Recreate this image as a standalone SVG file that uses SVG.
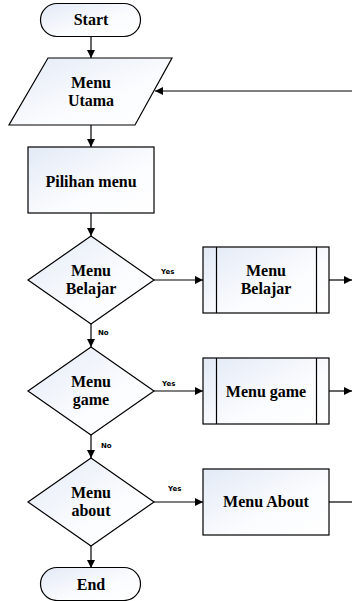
<svg xmlns="http://www.w3.org/2000/svg" width="352" height="601" viewBox="0 0 352 601">
<defs>
<linearGradient id="g" x1="0" y1="0" x2="1" y2="1">
<stop offset="0" stop-color="#e3eaf6"/>
<stop offset="0.6" stop-color="#fbfcfe"/>
<stop offset="1" stop-color="#ffffff"/>
</linearGradient>
<marker id="ah" viewBox="0 0 10 10" refX="10" refY="5" markerWidth="8" markerHeight="8" markerUnits="userSpaceOnUse" orient="auto">
<path d="M0,0 L10,5 L0,10 z" fill="#000"/>
</marker>
<style>
.s{fill:url(#g);stroke:#000;stroke-width:1.2}
.t{font-family:"Liberation Serif",serif;font-weight:bold;font-size:16px;text-anchor:middle;fill:#000}
.l{font-family:"DejaVu Sans",sans-serif;font-weight:bold;font-size:7px;fill:#000}
.c{fill:none;stroke:#000;stroke-width:1.2}
.a{marker-end:url(#ah)}
</style>
</defs>
<rect width="352" height="601" fill="#fff"/>
<g id="connectors">
<line class="c a" x1="91" y1="37" x2="91" y2="58"/>
<line class="c a" x1="352" y1="91" x2="155" y2="91"/>
<line class="c a" x1="91" y1="125" x2="91" y2="147"/>
<line class="c a" x1="91" y1="213" x2="91" y2="236"/>
<line class="c a" x1="154" y1="280" x2="203" y2="280"/>
<line class="c a" x1="329" y1="280" x2="352" y2="280"/>
<line class="c a" x1="91" y1="324" x2="91" y2="347"/>
<line class="c a" x1="154" y1="391" x2="203" y2="391"/>
<line class="c a" x1="329" y1="391" x2="352" y2="391"/>
<line class="c a" x1="91" y1="435" x2="91" y2="458"/>
<line class="c a" x1="154" y1="502" x2="203" y2="502"/>
<line class="c" x1="329" y1="502" x2="352" y2="502"/>
<line class="c a" x1="91" y1="546" x2="91" y2="568"/>
<text class="l" x="161" y="274">Yes</text>
<text class="l" x="162" y="386">Yes</text>
<text class="l" x="168" y="491">Yes</text>
<text class="l" x="98" y="335">No</text>
<text class="l" x="101" y="448">No</text>
</g>
<g id="start">
<rect class="s" x="40.5" y="3.5" width="100" height="33" rx="16.5"/>
<text class="t" x="91" y="25">Start</text>
</g>
<g id="menu-utama">
<polygon class="s" points="48,58 172,58 135,125 9,125"/>
<text class="t" x="91" y="88">Menu</text>
<text class="t" x="91" y="106">Utama</text>
</g>
<g id="pilihan-menu">
<rect class="s" x="28" y="147" width="126" height="66"/>
<text class="t" x="91" y="187">Pilihan menu</text>
</g>
<g id="dec-belajar">
<polygon class="s" points="91,236 154,280 91,324 28,280"/>
<text class="t" x="91" y="276">Menu</text>
<text class="t" x="91" y="294">Belajar</text>
</g>
<g id="menu-belajar">
<rect class="s" x="203" y="247" width="126" height="66"/>
<line class="c" x1="216.5" y1="247" x2="216.5" y2="313"/>
<line class="c" x1="316.5" y1="247" x2="316.5" y2="313"/>
<text class="t" x="266" y="276">Menu</text>
<text class="t" x="266" y="294">Belajar</text>
</g>
<g id="dec-game">
<polygon class="s" points="91,347 154,391 91,435 28,391"/>
<text class="t" x="91" y="387">Menu</text>
<text class="t" x="91" y="405">game</text>
</g>
<g id="menu-game">
<rect class="s" x="203" y="358" width="126" height="66"/>
<line class="c" x1="216.5" y1="358" x2="216.5" y2="424"/>
<line class="c" x1="316.5" y1="358" x2="316.5" y2="424"/>
<text class="t" x="266" y="397">Menu game</text>
</g>
<g id="dec-about">
<polygon class="s" points="91,458 154,502 91,546 28,502"/>
<text class="t" x="91" y="498">Menu</text>
<text class="t" x="91" y="516">about</text>
</g>
<g id="menu-about">
<rect class="s" x="203" y="469" width="126" height="66"/>
<text class="t" x="266" y="507">Menu About</text>
</g>
<g id="end">
<rect class="s" x="40.5" y="567.5" width="100" height="33" rx="16.5"/>
<text class="t" x="91" y="590">End</text>
</g>
</svg>
